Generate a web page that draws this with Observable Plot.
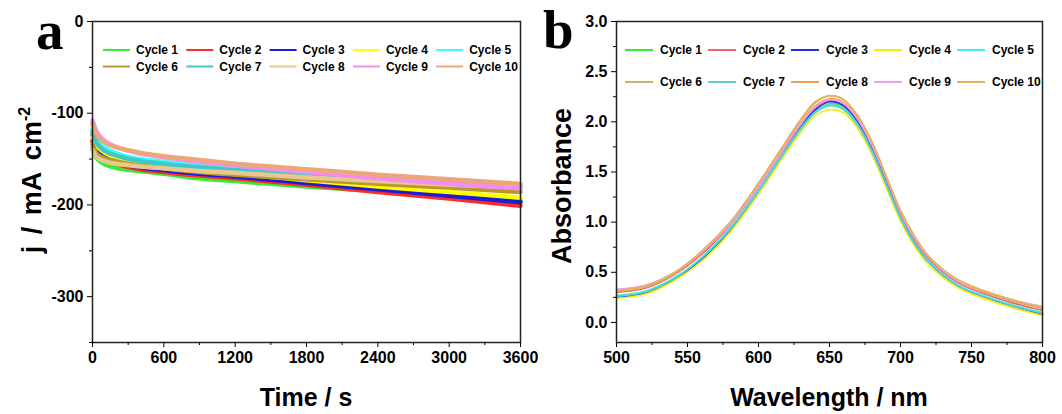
<!DOCTYPE html>
<html>
<head>
<meta charset="utf-8">
<script src="https://cdn.jsdelivr.net/npm/d3@7"></script>
<script src="https://cdn.jsdelivr.net/npm/@observablehq/plot@0.6"></script>
<style>
  html, body { margin: 0; padding: 0; background: #fff; }
  #wrap { position: relative; width: 1062px; height: 414px; overflow: hidden; background: #fff; font-family: "Liberation Sans", Arial, sans-serif; }
  .panel { position: absolute; top: 0; }
  .lbl { position: absolute; font-family: "Liberation Sans", Arial, sans-serif; font-weight: bold; font-size: 25px; color: #000; white-space: nowrap; }
  .tag { position: absolute; font-family: "Liberation Serif", "Times New Roman", serif; font-weight: bold; font-size: 55px; color: #000; line-height: 1.1; }
  .rot { transform: translate(-50%, -50%) rotate(-90deg); }
  sup { font-size: 16px; vertical-align: 11px; }
</style>
</head>
<body>
<div id="wrap"></div>
<script>
// ---------- data ----------
const cycles = ["Cycle 1","Cycle 2","Cycle 3","Cycle 4","Cycle 5","Cycle 6","Cycle 7","Cycle 8","Cycle 9","Cycle 10"];
const colorsA = ["#33ee33","#ff2a2a","#1c1cd8","#ffff00","#3cfcfc","#b8982e","#40c8c8","#e8c88e","#f68cf0","#eba67c"];
const colorsB = ["#33ee33","#f06464","#2a2ae0","#f8f000","#40f0f0","#d6b062","#5ccccc","#f0a050","#f0a0f0","#e2b458"];

// Panel a: chronoamperometry (j vs time)
const timeS = [0, 30, 80, 150, 250, 400, 600, 900, 1200, 1800, 2400, 3000, 3600];
const jCycle1  = [-138,-148,-154,-158,-161,-163,-166,-171,-174,-180,-185,-190,-195];
const jCycle2  = [-130,-141,-148,-153,-157,-161,-164,-168,-171,-178,-186,-193,-201];
const jCycle3  = [-124,-136,-144,-150,-155,-159,-162,-166,-169,-176,-183,-190,-197];
const jCycle4  = [-125,-134,-141,-146,-150,-155,-159,-163,-166,-173,-180,-186,-192];
const jCycle5  = [-118,-128,-136,-141,-146,-150,-153,-157,-160,-165,-170,-175,-178];
const jCycle6  = [-134,-143,-148,-151,-154,-157,-160,-164,-167,-172,-177,-181,-186];
const jCycle7  = [-120,-131,-139,-144,-148,-152,-155,-159,-162,-167,-172,-177,-180];
const jCycle8  = [-140,-147,-151,-154,-156,-158,-160,-163,-165,-170,-174,-178,-181];
const jCycle9  = [-108,-119,-128,-134,-139,-144,-148,-153,-157,-164,-171,-177,-182];
const jCycle10 = [-112,-122,-130,-135,-139,-143,-147,-151,-155,-161,-167,-172,-177];
const jSeries = [jCycle1,jCycle2,jCycle3,jCycle4,jCycle5,jCycle6,jCycle7,jCycle8,jCycle9,jCycle10];

// Panel b: absorbance spectra
const wavelengthNm = [500,520,540,560,580,600,620,630,640,650,660,670,680,690,700,710,720,740,760,780,800];
const absCycle1  = [0.26,0.30,0.43,0.64,0.93,1.31,1.73,1.93,2.10,2.18,2.14,1.98,1.72,1.39,1.05,0.79,0.60,0.37,0.25,0.16,0.08];
const absCycle2  = [0.30,0.34,0.47,0.68,0.97,1.35,1.77,1.97,2.14,2.21,2.17,2.01,1.75,1.42,1.08,0.82,0.63,0.40,0.28,0.19,0.12];
const absCycle3  = [0.25,0.29,0.42,0.63,0.92,1.31,1.74,1.95,2.12,2.20,2.16,2.00,1.73,1.39,1.05,0.79,0.60,0.37,0.25,0.16,0.08];
const absCycle4  = [0.24,0.28,0.41,0.61,0.90,1.28,1.70,1.90,2.06,2.12,2.09,1.93,1.67,1.34,1.01,0.76,0.57,0.35,0.23,0.14,0.07];
const absCycle5  = [0.27,0.31,0.44,0.65,0.94,1.32,1.74,1.94,2.10,2.17,2.13,1.97,1.71,1.38,1.05,0.79,0.61,0.38,0.26,0.17,0.10];
const absCycle6  = [0.31,0.35,0.48,0.70,0.99,1.38,1.81,2.02,2.19,2.26,2.22,2.05,1.79,1.45,1.11,0.85,0.65,0.42,0.30,0.21,0.14];
const absCycle7  = [0.26,0.30,0.43,0.64,0.93,1.31,1.73,1.93,2.09,2.16,2.12,1.96,1.70,1.37,1.04,0.78,0.60,0.37,0.25,0.16,0.09];
const absCycle8  = [0.32,0.36,0.49,0.70,0.99,1.37,1.79,1.99,2.16,2.23,2.19,2.03,1.77,1.44,1.10,0.84,0.65,0.42,0.30,0.21,0.15];
const absCycle9  = [0.33,0.37,0.49,0.70,0.98,1.36,1.78,1.98,2.15,2.22,2.18,2.02,1.76,1.44,1.10,0.84,0.65,0.42,0.31,0.22,0.16];
const absCycle10 = [0.32,0.36,0.49,0.71,1.00,1.39,1.82,2.03,2.20,2.26,2.22,2.06,1.80,1.46,1.12,0.86,0.66,0.43,0.31,0.22,0.15];
const absSeries = [absCycle1,absCycle2,absCycle3,absCycle4,absCycle5,absCycle6,absCycle7,absCycle8,absCycle9,absCycle10];

// ticks
const timeTicks = [0,600,1200,1800,2400,3000,3600];
const timeMinor = [300,900,1500,2100,2700,3300];
const jTicks = [0,-100,-200,-300];
const jMinor = [-50,-150,-250,-350];
const wlTicks = [500,550,600,650,700,750,800];
const wlMinor = [525,575,625,675,725,775];
const absTicks = [0,0.5,1,1.5,2,2.5,3];
const absMinor = [0.25,0.75,1.25,1.75,2.25,2.75];

// ---------- tables ----------
const rowsA = cycles.flatMap((c, i) => timeS.map((t, k) => ({cycle: c, t, j: jSeries[i][k]})));
const rowsB = cycles.flatMap((c, i) => wavelengthNm.map((w, k) => ({cycle: c, w, a: absSeries[i][k]})));

const W = 531, H = 414;
const tickFont = {fontSize: 16, fontWeight: "bold", fontFamily: "Liberation Sans, Arial, sans-serif"};

const plotA = Plot.plot({
  width: W, height: H,
  marginLeft: 92, marginRight: 11, marginTop: 21, marginBottom: 72,
  style: {background: "transparent", color: "#000", overflow: "visible"},
  x: {domain: [0, 3600]},
  y: {domain: [-350, 0]},
  color: {domain: cycles, range: colorsA},
  marks: [
    Plot.line(rowsA, {x: "t", y: "j", z: "cycle", stroke: "cycle", strokeWidth: 4.5, curve: "monotone-x"}),
    Plot.frame({stroke: "#222", strokeWidth: 1.5}),
    Plot.axisX({ticks: timeTicks, tickSize: 5, tickPadding: 4, tickFormat: d => String(d), label: null, ...tickFont}),
    Plot.axisX({ticks: timeMinor, tickSize: 3, tickFormat: () => "", label: null}),
    Plot.axisY({ticks: jTicks, tickSize: 5, tickPadding: 4, tickFormat: d => String(d), label: null, ...tickFont}),
    Plot.axisY({ticks: jMinor, tickSize: 3, tickFormat: () => "", label: null})
  ]
});

const plotB = Plot.plot({
  width: W, height: H,
  marginLeft: 85, marginRight: 20, marginTop: 21, marginBottom: 72,
  style: {background: "transparent", color: "#000", overflow: "visible"},
  x: {domain: [500, 800]},
  y: {domain: [-0.2, 3.0]},
  color: {domain: cycles, range: colorsB},
  marks: [
    Plot.line(rowsB, {x: "w", y: "a", z: "cycle", stroke: "cycle", strokeWidth: 1.6, curve: "catmull-rom"}),
    Plot.frame({stroke: "#222", strokeWidth: 1.5}),
    Plot.axisX({ticks: wlTicks, tickSize: 5, tickPadding: 4, tickFormat: d => String(d), label: null, ...tickFont}),
    Plot.axisX({ticks: wlMinor, tickSize: 3, tickFormat: () => "", label: null}),
    Plot.axisY({ticks: absTicks, tickSize: 5, tickPadding: 4, tickFormat: d3.format(".1f"), label: null, ...tickFont}),
    Plot.axisY({ticks: absMinor, tickSize: 3, tickFormat: () => "", label: null})
  ]
});

// legends (drawn inside each frame)
function addLegend(svg, colors, x0, colStep, rows, swatch, textGap) {
  const g = d3.select(svg).append("g")
    .attr("font-family", "Liberation Sans, Arial, sans-serif")
    .attr("font-weight", "bold").attr("font-size", 12)
    .attr("text-anchor", "start");
  cycles.forEach((c, i) => {
    const col = i % 5, row = Math.floor(i / 5);
    const x = x0 + col * colStep, y = rows[row];
    g.append("line").attr("x1", x).attr("x2", x + swatch).attr("y1", y).attr("y2", y)
      .attr("stroke", colors[i]).attr("stroke-width", 2);
    g.append("text").attr("x", x + swatch + textGap).attr("y", y).attr("dy", "0.35em")
      .attr("fill", "#000").attr("text-anchor", "start").text(c);
  });
}
addLegend(plotA, colorsA, 103, 83.3, [50, 66.5], 27, 6);
addLegend(plotB, colorsB, 94, 83, [50, 82], 28, 7);

const wrap = document.getElementById("wrap");
const pb = document.createElement("div"); pb.className = "panel"; pb.style.left = "531px"; pb.appendChild(plotB); wrap.appendChild(pb);
const pa = document.createElement("div"); pa.className = "panel"; pa.style.left = "0px"; pa.appendChild(plotA); wrap.appendChild(pa);

function addHTML(cls, html, left, top) {
  const d = document.createElement("div");
  d.className = cls; d.innerHTML = html;
  d.style.left = left + "px"; d.style.top = top + "px";
  wrap.appendChild(d);
  return d;
}
addHTML("tag", "a", 36, 1);
addHTML("tag", "b", 543, 0);
const xa = addHTML("lbl", "Time / s", 306, 397); xa.style.transform = "translate(-50%, -50%)";
const xb = addHTML("lbl", "Wavelength / nm", 829, 397); xb.style.transform = "translate(-50%, -50%)";
const ya = addHTML("lbl rot", "j&nbsp;/&nbsp;mA&nbsp;cm<sup>-2</sup>", 32, 180); ya.style.fontSize = "27px"; ya.style.wordSpacing = "4px";
const yb = addHTML("lbl rot", "Absorbance", 562, 186); yb.style.fontSize = "27px";
</script>
</body>
</html>
